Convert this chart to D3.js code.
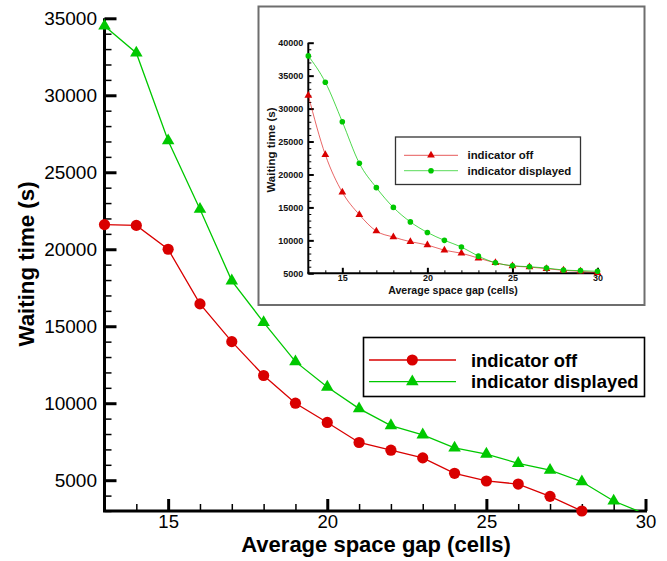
<!DOCTYPE html>
<html>
<head>
<meta charset="utf-8">
<script src="https://cdn.jsdelivr.net/npm/d3@7"></script>
<style>
  html, body { margin: 0; padding: 0; background: #fff; }
  svg { display: block; font-family: "Liberation Sans", Arial, Helvetica, sans-serif; }
</style>
</head>
<body>
<svg id="chart" width="667" height="561"></svg>
<script>
// ---------- DATA ----------
// Main chart
const gapCells = [13, 14, 15, 16, 17, 18, 19, 20, 21, 22, 23, 24, 25, 26, 27, 28, 29, 30];
const indicatorOff = [21600, 21550, 20000, 16450, 14000, 11800, 10000, 8750, 7450, 6950, 6450, 5450, 4950, 4750, 3950, 3000, null, null];
const indicatorDisplayed = [34500, 32750, 27050, 22600, 17950, 15250, 12700, 11050, 9650, 8550, 7950, 7100, 6700, 6100, 5650, 4900, 3650, 2800];
const mainYTicks = [5000, 10000, 15000, 20000, 25000, 30000, 35000];
const mainXTicks = [15, 20, 25, 30];
const seriesNames = ["indicator off", "indicator displayed"];

// Inset chart
const insetGap = [13, 14, 15, 16, 17, 18, 19, 20, 21, 22, 23, 24, 25, 26, 27, 28, 29, 30];
const insetOff = [32000, 23000, 17300, 13900, 11400, 10500, 9800, 9300, 8500, 8050, 7300, 6600, 6100, 5950, 5700, 5450, 5300, 5100];
const insetDisplayed = [38000, 34000, 28000, 21700, 18000, 15000, 12800, 11200, 10000, 9000, 7600, 6600, 6150, 6000, 5800, 5500, 5400, 5300];
const insetYTicks = [5000, 10000, 15000, 20000, 25000, 30000, 35000, 40000];
const insetXTicks = [15, 20, 25, 30];

const axisTitleX = "Average space gap (cells)";
const axisTitleY = "Waiting time (s)";

// ---------- STYLE ----------
const RED = "#d90000";
const GREEN = "#00c800";

const svg = d3.select("#chart");

// ================= MAIN CHART =================
const x = d3.scaleLinear().domain([13, 30]).range([104.5, 645.5]);
const y = d3.scaleLinear().domain([3000, 35000]).range([511, 18.3]);

const minorY = d3.range(3000, 35001, 1000).filter(v => v % 5000 !== 0);
const minorX = d3.range(13, 31, 1).filter(v => v % 5 !== 0);

// minor ticks
svg.append("g").attr("transform", `translate(${x(13)},0)`)
  .call(d3.axisLeft(y).tickValues(minorY).tickSize(-7).tickSizeOuter(0).tickFormat(""))
  .call(g => g.select(".domain").remove())
  .call(g => g.selectAll("line").attr("stroke", "#000").attr("stroke-width", 1.5));
svg.append("g").attr("transform", `translate(0,${y(3000)})`)
  .call(d3.axisBottom(x).tickValues(minorX).tickSize(-7).tickSizeOuter(0).tickFormat(""))
  .call(g => g.select(".domain").remove())
  .call(g => g.selectAll("line").attr("stroke", "#000").attr("stroke-width", 1.5));

// major axes
const yAxisG = svg.append("g").attr("transform", `translate(${x(13)},0)`)
  .call(d3.axisLeft(y).tickValues(mainYTicks).tickSize(-12).tickSizeOuter(0).tickPadding(7.5).tickFormat(d3.format("d")));
yAxisG.select(".domain").attr("stroke", "#000").attr("stroke-width", 3)
  .attr("d", `M0,${y(35000)}V${y(3000)}`);
yAxisG.selectAll(".tick line").attr("stroke", "#000").attr("stroke-width", 3);
yAxisG.selectAll(".tick text").attr("font-size", 19).attr("fill", "#000")
  .attr("font-family", "'Liberation Sans', Arial, sans-serif");

const xAxisG = svg.append("g").attr("transform", `translate(0,${y(3000)})`)
  .call(d3.axisBottom(x).tickValues(mainXTicks).tickSize(-12).tickSizeOuter(0).tickPadding(4).tickFormat(d3.format("d")));
xAxisG.select(".domain").attr("stroke", "#000").attr("stroke-width", 3)
  .attr("d", `M${x(13) - 1.5},0H${x(30) + 1.5}`);
xAxisG.selectAll(".tick line").attr("stroke", "#000").attr("stroke-width", 3);
xAxisG.selectAll(".tick text").attr("font-size", 18.5).attr("fill", "#000")
  .attr("font-family", "'Liberation Sans', Arial, sans-serif");

// axis titles
svg.append("text").attr("x", 376).attr("y", 552).attr("text-anchor", "middle")
  .attr("font-size", 22).attr("font-weight", "bold").text(axisTitleX);
svg.append("text").attr("transform", `translate(34,264) rotate(-90)`).attr("text-anchor", "middle")
  .attr("font-size", 22.3).attr("font-weight", "bold").text(axisTitleY);

// clip for lines
svg.append("clipPath").attr("id", "mainClip").append("rect")
  .attr("x", x(13)).attr("y", 0).attr("width", x(30) - x(13) + 2).attr("height", y(3000));

const offData = gapCells.map((g, i) => ({ x: g, v: indicatorOff[i] })).filter(d => d.v != null);
const dispData = gapCells.map((g, i) => ({ x: g, v: indicatorDisplayed[i] })).filter(d => d.v != null);

const line = d3.line().x(d => x(d.x)).y(d => y(d.v));

svg.append("path").datum(offData).attr("clip-path", "url(#mainClip)")
  .attr("d", line).attr("fill", "none").attr("stroke", RED).attr("stroke-width", 1.3);
svg.append("path").datum(dispData).attr("clip-path", "url(#mainClip)")
  .attr("d", line).attr("fill", "none").attr("stroke", GREEN).attr("stroke-width", 1.3);

svg.append("g").selectAll("circle").data(offData.filter(d => d.v >= 2900)).join("circle")
  .attr("cx", d => x(d.x)).attr("cy", d => y(d.v)).attr("r", 5.6).attr("fill", RED);

const triBig = d3.symbol().type(d3.symbolTriangle).size(68);
svg.append("g").selectAll("path").data(dispData.filter(d => d.v >= 2900)).join("path")
  .attr("transform", d => `translate(${x(d.x)},${y(d.v)})`).attr("d", triBig).attr("fill", GREEN);

// main legend
const lg = svg.append("g");
lg.append("rect").attr("x", 363.5).attr("y", 337.5).attr("width", 281).attr("height", 59)
  .attr("fill", "#fff").attr("stroke", "#000").attr("stroke-width", 1.6);
const legRows = [
  { name: seriesNames[0], color: RED, ry: 360, mark: "circle" },
  { name: seriesNames[1], color: GREEN, ry: 381.7, mark: "tri" }
];
legRows.forEach(r => {
  lg.append("line").attr("x1", 369).attr("x2", 456).attr("y1", r.ry).attr("y2", r.ry)
    .attr("stroke", r.color).attr("stroke-width", 1.3);
  if (r.mark === "circle") {
    lg.append("circle").attr("cx", 412.3).attr("cy", r.ry).attr("r", 5.6).attr("fill", r.color);
  } else {
    lg.append("path").attr("transform", `translate(412.3,${r.ry})`).attr("d", triBig).attr("fill", r.color);
  }
  lg.append("text").attr("x", 471).attr("y", r.ry + 6.6).attr("font-size", 18.4)
    .attr("font-weight", "bold").text(r.name);
});

// ================= INSET =================
svg.append("rect").attr("x", 258.5).attr("y", 6.5).attr("width", 386).attr("height", 298.5)
  .attr("fill", "#fff").attr("stroke", "#6e6e6e").attr("stroke-width", 2);

const ix = d3.scaleLinear().domain([13, 30]).range([308.3, 597.5]);
const iy = d3.scaleLinear().domain([5000, 40000]).range([273.3, 42.7]);

const iMinorY = d3.range(5000, 40001, 1000).filter(v => v % 5000 !== 0);
const iMinorX = d3.range(13, 31, 1).filter(v => v % 5 !== 0);

svg.append("g").attr("transform", `translate(${ix(13)},0)`)
  .call(d3.axisLeft(iy).tickValues(iMinorY).tickSize(-3).tickSizeOuter(0).tickFormat(""))
  .call(g => g.select(".domain").remove())
  .call(g => g.selectAll("line").attr("stroke", "#000").attr("stroke-width", 1));
svg.append("g").attr("transform", `translate(0,${iy(5000)})`)
  .call(d3.axisBottom(ix).tickValues(iMinorX).tickSize(-3).tickSizeOuter(0).tickFormat(""))
  .call(g => g.select(".domain").remove())
  .call(g => g.selectAll("line").attr("stroke", "#000").attr("stroke-width", 1));

const iyAxis = svg.append("g").attr("transform", `translate(${ix(13)},0)`)
  .call(d3.axisLeft(iy).tickValues(insetYTicks).tickSize(-5.5).tickSizeOuter(0).tickPadding(5).tickFormat(d3.format("d")));
iyAxis.select(".domain").attr("stroke", "#000").attr("stroke-width", 2)
  .attr("d", `M0,${iy(40000)}V${iy(5000)}`);
iyAxis.selectAll(".tick line").attr("stroke", "#000").attr("stroke-width", 2);
iyAxis.selectAll(".tick text").attr("font-size", 9).attr("font-weight", "bold").attr("fill", "#111")
  .attr("font-family", "'Liberation Sans', Arial, sans-serif");

const ixAxis = svg.append("g").attr("transform", `translate(0,${iy(5000)})`)
  .call(d3.axisBottom(ix).tickValues(insetXTicks).tickSize(-5.5).tickSizeOuter(0).tickPadding(1.5).tickFormat(d3.format("d")));
ixAxis.select(".domain").attr("stroke", "#000").attr("stroke-width", 2)
  .attr("d", `M${ix(13) - 1},0H${ix(30) + 1}`);
ixAxis.selectAll(".tick line").attr("stroke", "#000").attr("stroke-width", 2);
ixAxis.selectAll(".tick text").attr("font-size", 9).attr("font-weight", "bold").attr("fill", "#111")
  .attr("font-family", "'Liberation Sans', Arial, sans-serif");

svg.append("text").attr("x", 453).attr("y", 293.5).attr("text-anchor", "middle")
  .attr("font-size", 10.6).attr("font-weight", "bold").attr("fill", "#111").text(axisTitleX);
svg.append("text").attr("transform", `translate(275,150) rotate(-90)`).attr("text-anchor", "middle")
  .attr("font-size", 11.5).attr("font-weight", "bold").attr("fill", "#111").text(axisTitleY);

const iOff = insetGap.map((g, i) => ({ x: g, v: insetOff[i] }));
const iDisp = insetGap.map((g, i) => ({ x: g, v: insetDisplayed[i] }));
const iLine = d3.line().x(d => ix(d.x)).y(d => iy(d.v)).curve(d3.curveMonotoneX);

svg.append("path").datum(iOff).attr("d", iLine).attr("fill", "none")
  .attr("stroke", RED).attr("stroke-opacity", 0.6).attr("stroke-width", 1);
svg.append("path").datum(iDisp).attr("d", iLine).attr("fill", "none")
  .attr("stroke", GREEN).attr("stroke-opacity", 0.7).attr("stroke-width", 1);

const triSmall = d3.symbol().type(d3.symbolTriangle).size(26);
svg.append("g").selectAll("path").data(iOff).join("path")
  .attr("transform", d => `translate(${ix(d.x)},${iy(d.v)})`).attr("d", triSmall).attr("fill", RED);
svg.append("g").selectAll("circle").data(iDisp).join("circle")
  .attr("cx", d => ix(d.x)).attr("cy", d => iy(d.v)).attr("r", 2.8).attr("fill", GREEN);

// inset legend
const ilg = svg.append("g");
ilg.append("rect").attr("x", 395.5).attr("y", 137).attr("width", 185).attr("height", 47.5)
  .attr("fill", "#fff").attr("stroke", "#333").attr("stroke-width", 1.3);
const iRows = [
  { name: seriesNames[0], color: RED, ry: 155.3, mark: "tri" },
  { name: seriesNames[1], color: GREEN, ry: 170.7, mark: "circle" }
];
iRows.forEach(r => {
  ilg.append("line").attr("x1", 404).attr("x2", 458).attr("y1", r.ry).attr("y2", r.ry)
    .attr("stroke", r.color).attr("stroke-opacity", 0.65).attr("stroke-width", 1);
  if (r.mark === "circle") {
    ilg.append("circle").attr("cx", 431).attr("cy", r.ry).attr("r", 2.8).attr("fill", r.color);
  } else {
    ilg.append("path").attr("transform", `translate(431,${r.ry})`).attr("d", triSmall).attr("fill", r.color);
  }
  ilg.append("text").attr("x", 467.5).attr("y", r.ry + 4).attr("font-size", 11.4)
    .attr("font-weight", "bold").attr("fill", "#111").text(r.name);
});
</script>
</body>
</html>
